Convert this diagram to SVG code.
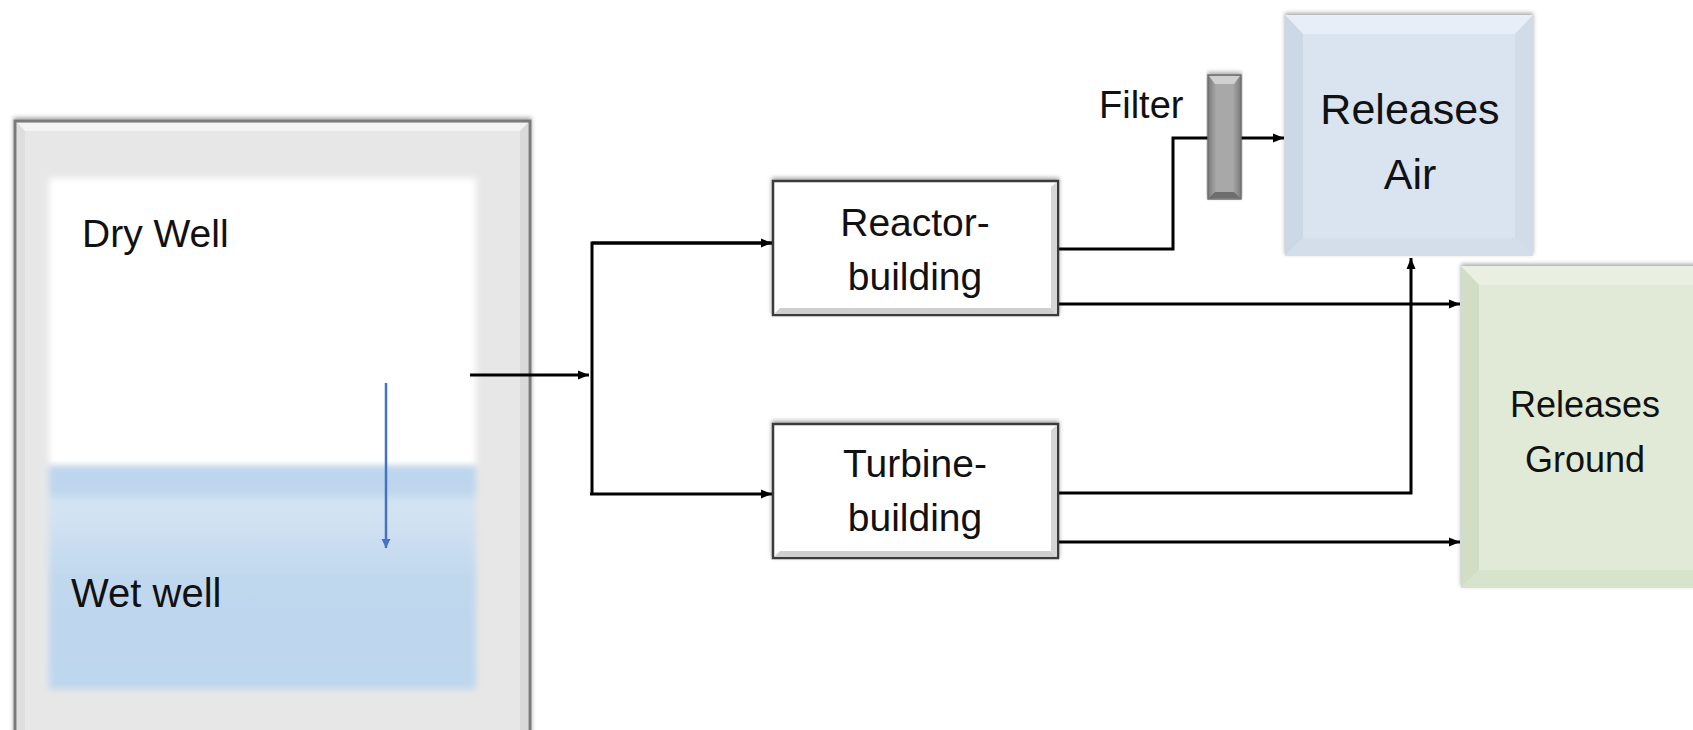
<svg xmlns="http://www.w3.org/2000/svg" width="1693" height="730" viewBox="0 0 1693 730">
  <style>
    .lbl { font-family: "Liberation Sans", Arial, sans-serif; fill: #111; }
    .conn { fill: none; stroke: #000; stroke-width: 3; }
    .box { fill: #fff; stroke: #3a3a3a; stroke-width: 2.5; }
  </style>
  <defs>
    <marker id="arr" markerUnits="userSpaceOnUse" markerWidth="12" markerHeight="10" refX="11" refY="5" orient="auto">
      <path d="M0,0.5 L11,5 L0,9.5 z" fill="#000"/>
    </marker>
    <marker id="arrBlue" markerUnits="userSpaceOnUse" markerWidth="10" markerHeight="10" refX="9" refY="5" orient="auto">
      <path d="M0,0.5 L9,5 L0,9.5 z" fill="#4472c4"/>
    </marker>
    <filter id="blur" x="-5%" y="-5%" width="110%" height="110%">
      <feGaussianBlur stdDeviation="3"/>
    </filter>
    <filter id="shadowTop" x="-5%" y="-10%" width="110%" height="120%">
      <feDropShadow dx="0" dy="-2" stdDeviation="2" flood-color="#000" flood-opacity="0.35"/>
    </filter>
    <linearGradient id="water" x1="0" y1="0" x2="0" y2="1">
      <stop offset="0" stop-color="#bdd6ee"/>
      <stop offset="0.12" stop-color="#bed7ee"/>
      <stop offset="0.16" stop-color="#d4e4f3"/>
      <stop offset="0.28" stop-color="#cfe0f1"/>
      <stop offset="0.5" stop-color="#c0d8ee"/>
      <stop offset="1" stop-color="#bdd7ee"/>
    </linearGradient>
    <linearGradient id="filterGrad" x1="0" y1="0" x2="1" y2="0">
      <stop offset="0" stop-color="#7a7a7a"/>
      <stop offset="0.25" stop-color="#a8a8a8"/>
      <stop offset="0.75" stop-color="#a8a8a8"/>
      <stop offset="1" stop-color="#7a7a7a"/>
    </linearGradient>
  </defs>

  <!-- Containment -->
  <g id="containment">
    <rect x="15" y="121" width="515" height="640" fill="#e7e7e7" stroke="#7a7a7a" stroke-width="3" filter="url(#shadowTop)"/>
    <polygon points="17,123 528,123 520,131 25,131" fill="#f3f3f3"/>
    <polygon points="528,123 528,730 520,730 520,131" fill="#d9d9d9"/>
    <polygon points="17,123 25,131 25,730 17,730" fill="#dedede"/>
  </g>

  <g id="dry-well">
    <rect x="49" y="178" width="427" height="288" fill="#fff" filter="url(#blur)"/>
    <text class="lbl" x="82" y="247" font-size="39">Dry Well</text>
  </g>

  <g id="wet-well">
    <rect x="49" y="466" width="427" height="223" fill="url(#water)" filter="url(#blur)"/>
    <text class="lbl" x="71" y="607" font-size="40">Wet well</text>
  </g>

  <!-- Connectors -->
  <g id="connectors">
    <line x1="386" y1="383" x2="386" y2="548" stroke="#4472c4" stroke-width="2.5" marker-end="url(#arrBlue)"/>
    <line class="conn" x1="470" y1="375" x2="589" y2="375" marker-end="url(#arr)"/>
    <polyline class="conn" points="772,243 592,243 592,494"/>
    <line class="conn" x1="590" y1="494" x2="772" y2="494" marker-end="url(#arr)"/>
    <line class="conn" x1="592" y1="243" x2="772" y2="243" marker-end="url(#arr)"/>
    <polyline class="conn" points="1058,249 1173,249 1173,138 1284,138" marker-end="url(#arr)"/>
    <line class="conn" x1="1058" y1="304" x2="1460" y2="304" marker-end="url(#arr)"/>
    <polyline class="conn" points="1058,493 1411,493 1411,258" marker-end="url(#arr)"/>
    <line class="conn" x1="1058" y1="542" x2="1460" y2="542" marker-end="url(#arr)"/>
  </g>

  <g id="reactor-building">
    <rect class="box" x="773" y="181" width="285" height="134" filter="url(#shadowTop)"/>
    <polygon points="1051,187 1057,182 1057,314 1051,308" fill="#d6d6d6"/>
    <polygon points="780,308 1051,308 1057,314 774,314" fill="#cfcfcf"/>
    <text class="lbl" x="915" y="236" font-size="39" text-anchor="middle">Reactor-</text>
    <text class="lbl" x="915" y="290" font-size="39" text-anchor="middle">building</text>
  </g>

  <g id="turbine-building">
    <rect class="box" x="773" y="424" width="285" height="134" filter="url(#shadowTop)"/>
    <polygon points="1051,430 1057,425 1057,557 1051,551" fill="#d6d6d6"/>
    <polygon points="780,551 1051,551 1057,557 774,557" fill="#cfcfcf"/>
    <text class="lbl" x="915" y="477" font-size="39" text-anchor="middle">Turbine-</text>
    <text class="lbl" x="915" y="531" font-size="39" text-anchor="middle">building</text>
  </g>

  <g id="filter">
    <rect x="1208" y="75" width="33" height="124" fill="url(#filterGrad)" stroke="#6f6f6f" stroke-width="1.5" filter="url(#shadowTop)"/>
    <polygon points="1209,76 1240,76 1234,84 1215,84" fill="#d0d0d0"/>
    <polygon points="1209,198 1240,198 1234,192 1215,192" fill="#6e6e6e"/>
    <text class="lbl" x="1099" y="118" font-size="38">Filter</text>
  </g>

  <g id="releases-air">
    <rect x="1285" y="15" width="248" height="241" fill="#dae3f0" filter="url(#shadowTop)"/>
    <polygon points="1285,15 1533,15 1515,34 1303,34" fill="#e7eef8"/>
    <polygon points="1285,15 1303,34 1303,238 1285,256" fill="#cdd8e6"/>
    <polygon points="1533,15 1533,256 1515,238 1515,34" fill="#d2dce9"/>
    <polygon points="1285,256 1303,238 1515,238 1533,256" fill="#d4deea"/>
    <text class="lbl" x="1410" y="124" font-size="43" text-anchor="middle">Releases</text>
    <text class="lbl" x="1410" y="189" font-size="43" text-anchor="middle">Air</text>
  </g>

  <g id="releases-ground">
    <rect x="1461" y="266" width="260" height="322" fill="#e0ead6" filter="url(#shadowTop)"/>
    <polygon points="1461,266 1721,266 1703,285 1479,285" fill="#e9f0e2"/>
    <polygon points="1461,266 1479,285 1479,570 1461,588" fill="#d2ddc6"/>
    <polygon points="1461,588 1479,570 1703,570 1721,588" fill="#d8e3cc"/>
    <text class="lbl" x="1585" y="417" font-size="36" text-anchor="middle">Releases</text>
    <text class="lbl" x="1585" y="472" font-size="36" text-anchor="middle">Ground</text>
  </g>
</svg>
